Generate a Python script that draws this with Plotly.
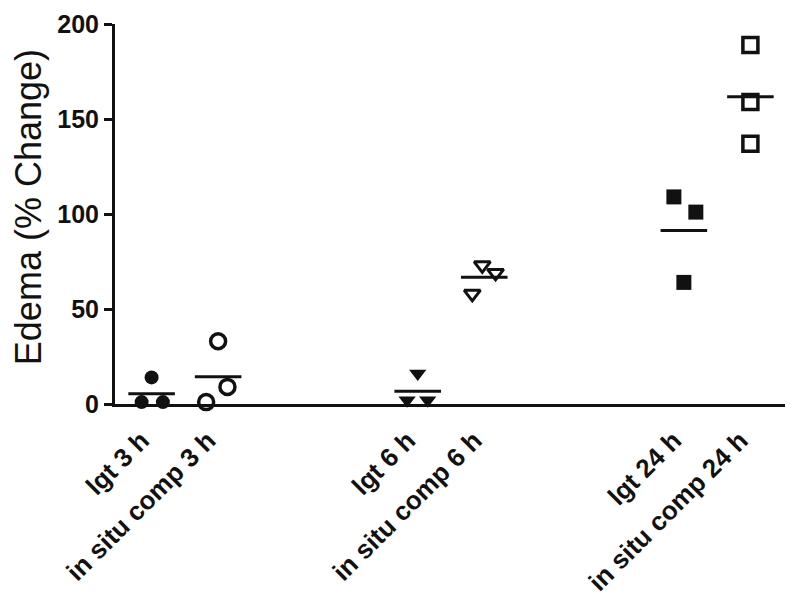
import numpy as np
import plotly.graph_objects as go

# ---- data ----
categories = ["lgt 3 h", "in situ comp 3 h", "lgt 6 h", "in situ comp 6 h",
              "lgt 24 h", "in situ comp 24 h"]
lgt_3h = [14, 1, 1]
insitu_3h = [1, 33, 9]
lgt_6h = [16, 2, 2]
insitu_6h = [73, 69, 58]
lgt_24h = [109, 101, 64]
insitu_24h = [189, 159, 137]
y_ticks = [0, 50, 100, 150, 200]

series = [lgt_3h, insitu_3h, lgt_6h, insitu_6h, lgt_24h, insitu_24h]

# ---- layout / style (positions of the categories along the axis, with gaps) ----
cat_pos = [0, 1, 4, 5, 8, 9]
jitter = [
    [0.0, -0.15, 0.17],
    [-0.18, 0.0, 0.14],
    [0.0, -0.16, 0.15],
    [-0.03, 0.17, -0.18],
    [-0.15, 0.18, 0.0],
    [0.0, 0.0, 0.0],
]
symbols = ["circle", "circle-open", "triangle-down", "triangle-down-open",
           "square", "square-open"]
sizes = [14, 15, 15, 14, 15, 15]
line_w = [0, 3.5, 0, 3, 0, 3.5]
ink = "#111111"

fig = go.Figure()
for vals, p, jit, sym, sz, lw in zip(series, cat_pos, jitter, symbols, sizes, line_w):
    xs = [p + j for j in jit]
    fig.add_trace(go.Scatter(
        x=xs, y=vals, mode="markers", cliponaxis=False, showlegend=False,
        marker=dict(symbol=sym, size=sz, color=ink,
                    line=dict(width=lw, color=ink)),
    ))
    m = float(np.mean(vals))
    fig.add_trace(go.Scatter(
        x=[p - 0.35, p + 0.35], y=[m, m], mode="lines", cliponaxis=False,
        showlegend=False, line=dict(color=ink, width=3),
    ))

# page body has an 8 px margin, so the figure is 792x600 and offsets are reduced by 8
fig.update_layout(
    width=792, height=600,
    margin=dict(l=107, r=15, t=16, b=204),
    paper_bgcolor="white", plot_bgcolor="white",
    font=dict(family="Liberation Sans, Arial, sans-serif", color=ink),
    xaxis=dict(
        range=[-0.55, 9.52], tickmode="array", tickvals=cat_pos,
        ticktext=categories, tickangle=-45, showgrid=False, zeroline=False,
        showline=True, linewidth=3, linecolor=ink, ticks="", automargin=False,
        ticklabelshift=-10, ticklabelstandoff=8,
        tickfont=dict(size=26, weight="bold", color=ink),
    ),
    yaxis=dict(
        range=[0, 200], tickmode="array", tickvals=y_ticks, automargin=False,
        showgrid=False, zeroline=False, showline=True, linewidth=3,
        linecolor=ink, ticks="outside", ticklen=8, tickwidth=3, tickcolor=ink,
        tickfont=dict(size=25, weight="bold", color=ink),
    ),
    annotations=[dict(
        text="Edema (% Change)", textangle=-90, showarrow=False,
        xref="paper", yref="paper", x=(20 - 107) / 670, y=0.518,
        xanchor="center", yanchor="middle",
        font=dict(size=36, color=ink),
    )],
)

fig.write_html("out.html")
